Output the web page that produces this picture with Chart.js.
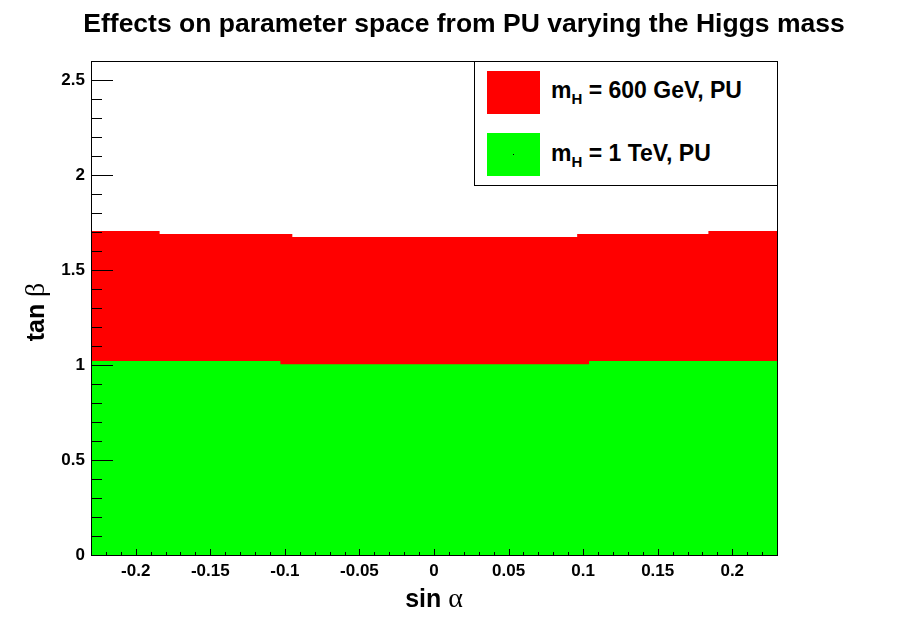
<!DOCTYPE html>
<html>
<head>
<meta charset="utf-8">
<script src="https://cdn.jsdelivr.net/npm/chart.js@4.4.0/dist/chart.umd.min.js"></script>
<style>
  body { margin: 0; background: #fff; }
  #wrap { position: relative; width: 913px; height: 619px; }
  #legend { position: absolute; left: 474px; top: 61px; width: 302px; height: 123px;
            border: 1px solid #000; background: #fff; box-sizing: content-box; }
  .sw { position: absolute; left: 12px; width: 53px; height: 43px; }
  .lt { position: absolute; left: 76px; font: bold 23px "Liberation Sans", Arial, sans-serif;
        line-height: 22px; white-space: nowrap; color: #000; }
  .lt sub { font-size: 15px; vertical-align: -6px; line-height: 0; }
</style>
</head>
<body>
<div id="wrap">
  <canvas id="chart" width="913" height="619"></canvas>
  <div id="legend">
    <div class="sw" style="top:9px;background:#ff0000"></div>
    <div class="lt" style="top:17px">m<sub>H</sub> = 600 GeV, PU</div>
    <div class="sw" style="top:71px;background:#00ff00"></div>
    <div style="position:absolute;left:38px;top:92px;width:1px;height:1px;background:#000"></div>
    <div class="lt" style="top:80px">m<sub>H</sub> = 1 TeV, PU</div>
  </div>
</div>
<script>
// bin edges (sin alpha) and tan beta upper limits per bin
const redEdges = [-0.23, -0.184, -0.095, 0.096, 0.184, 0.23];
const redTanBeta = [1.705, 1.69, 1.674, 1.69, 1.705];
const greenEdges = [-0.23, -0.103, 0.104, 0.23];
const greenTanBeta = [1.021, 1.004, 1.021];
const xTickLabels = [-0.2, -0.15, -0.1, -0.05, 0, 0.05, 0.1, 0.15, 0.2];
const yTickLabels = [0, 0.5, 1, 1.5, 2, 2.5];

function steps(edges, vals) {
    return edges.map((x, i) => ({ x: x, y: vals[Math.min(i, vals.length - 1)] }));
}

const SANS = '"Liberation Sans", Arial, sans-serif';
const SERIF = '"Liberation Serif", "Times New Roman", serif';

const rootFrame = {
    id: 'rootFrame',
    afterDraw(chart) {
        const ctx = chart.ctx;
        const a = chart.chartArea;
        const xs = chart.scales.x, ys = chart.scales.y;
        ctx.save();
        ctx.strokeStyle = '#000';
        ctx.lineWidth = 1;
        ctx.strokeRect(Math.round(a.left) + 0.5, Math.round(a.top) + 0.5,
                       Math.round(a.right - a.left), Math.round(a.bottom - a.top));
        // x ticks, pointing inward
        ctx.beginPath();
        for (let k = -23; k <= 23; k++) {
            const px = Math.round(xs.getPixelForValue(k / 100)) + 0.5;
            const len = (k % 5 === 0) ? 6 : 3;
            ctx.moveTo(px, a.bottom);
            ctx.lineTo(px, a.bottom - len);
        }
        // y ticks
        for (let k = 0; k <= 26; k++) {
            const py = Math.round(ys.getPixelForValue(k / 10)) + 0.5;
            const len = (k % 5 === 0) ? 22 : 11;
            ctx.moveTo(a.left, py);
            ctx.lineTo(a.left + len, py);
        }
        ctx.stroke();

        ctx.fillStyle = '#000';
        ctx.textBaseline = 'alphabetic';
        // title
        ctx.font = 'bold 26.5px ' + SANS;
        ctx.textAlign = 'center';
        ctx.fillText('Effects on parameter space from PU varying the Higgs mass', 464, 32);

        // axis titles with greek letters in serif
        function mixed(word, greek, cx, base) {
            ctx.font = 'bold 25px ' + SANS;
            const w1 = ctx.measureText(word + ' ').width;
            ctx.font = '28px ' + SERIF;
            const w2 = ctx.measureText(greek).width;
            let x0 = cx - (w1 + w2) / 2;
            ctx.textAlign = 'left';
            ctx.font = 'bold 25px ' + SANS;
            ctx.fillText(word + ' ', x0, base);
            ctx.font = '28px ' + SERIF;
            ctx.fillText(greek, x0 + w1, base);
        }
        mixed('sin', '\u03b1', (a.left + a.right) / 2, 607);
        ctx.save();
        ctx.translate(44, 312);
        ctx.rotate(-Math.PI / 2);
        mixed('tan', '\u03b2', 0, 0);
        ctx.restore();
        ctx.restore();
    }
};

new Chart(document.getElementById('chart'), {
    type: 'line',
    data: {
        datasets: [{
            label: 'mH = 600 GeV, PU',
            data: steps(redEdges, redTanBeta),
            stepped: 'before',
            fill: 'origin',
            backgroundColor: '#ff0000',
            borderColor: '#ff0000',
            borderWidth: 0,
            pointRadius: 0,
            order: 2
        }, {
            label: 'mH = 1 TeV, PU',
            data: steps(greenEdges, greenTanBeta),
            stepped: 'before',
            fill: 'origin',
            backgroundColor: '#00ff00',
            borderColor: '#00ff00',
            borderWidth: 0,
            pointRadius: 0,
            order: 1
        }]
    },
    options: {
        responsive: false,
        animation: false,
        layout: { padding: { left: 0, right: 136, top: 61, bottom: 0 } },
        plugins: { legend: { display: false }, tooltip: { enabled: false } },
        scales: {
            x: {
                type: 'linear',
                min: -0.23,
                max: 0.23,
                grid: { display: false, drawTicks: false },
                border: { display: false },
                afterBuildTicks: s => { s.ticks = xTickLabels.map(v => ({ value: v })); },
                afterFit: s => { s.height = 64; },
                ticks: {
                    autoSkip: false, maxRotation: 0, padding: 6, color: '#000',
                    font: { family: SANS, weight: 'bold', size: 17 },
                    callback: v => String(+v.toFixed(2))
                }
            },
            y: {
                min: 0,
                max: 2.6,
                grid: { display: false, drawTicks: false },
                border: { display: false },
                afterBuildTicks: s => { s.ticks = yTickLabels.map(v => ({ value: v })); },
                afterFit: s => { s.width = 91; },
                ticks: {
                    padding: 6, color: '#000',
                    font: { family: SANS, weight: 'bold', size: 17 },
                    callback: v => String(+v.toFixed(1))
                }
            }
        }
    },
    plugins: [rootFrame]
});
</script>
</body>
</html>
